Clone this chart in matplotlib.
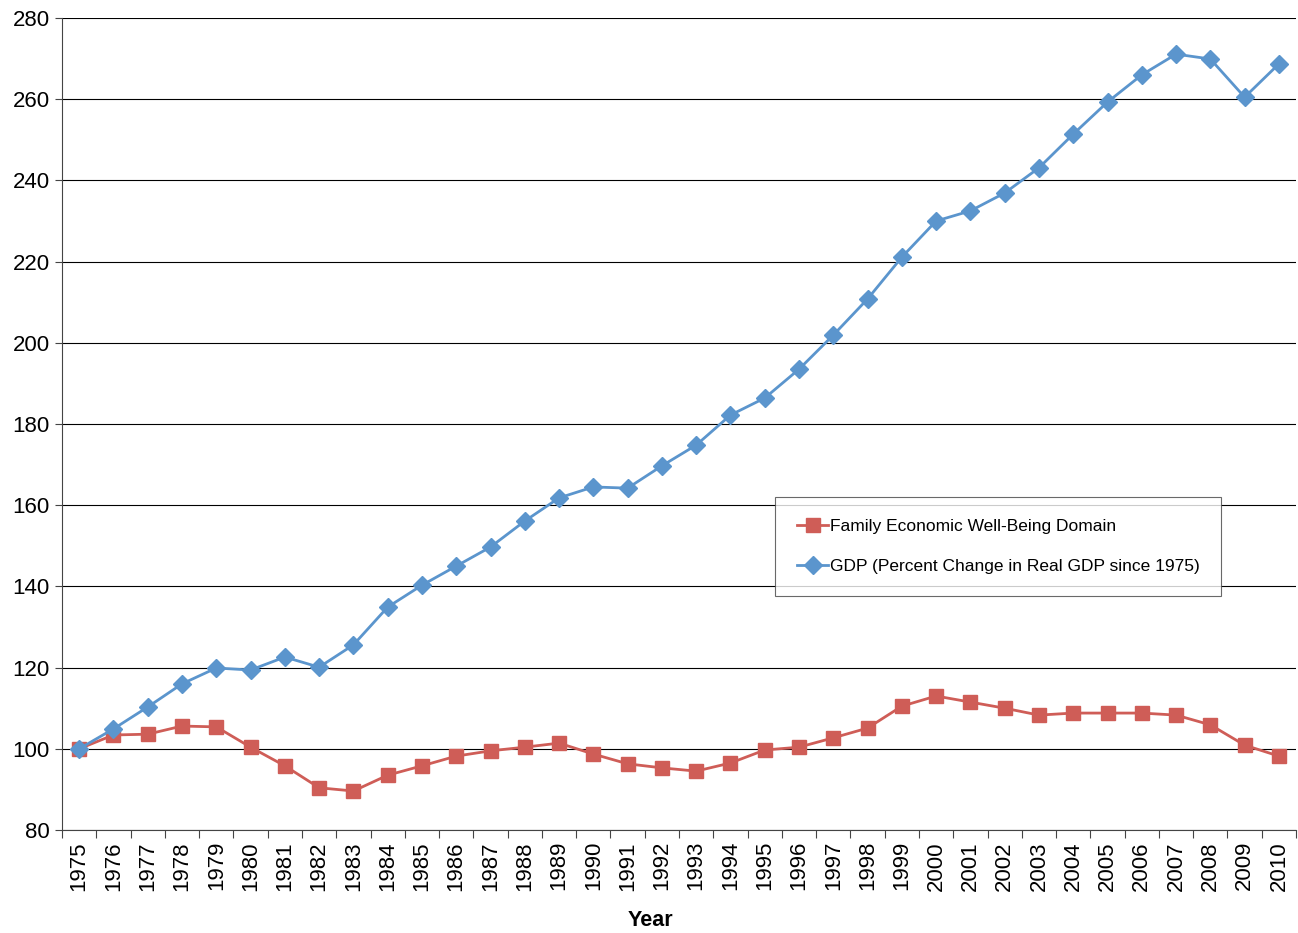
import matplotlib.pyplot as plt
import numpy as np

plt.rcParams['font.family'] = ['Liberation Sans', 'DejaVu Sans']

years = list(range(1975, 2011))
family = [100, 103.4, 103.6, 105.6, 105.4, 100.4, 95.8, 90.4, 89.6, 93.5,
          95.8, 98.2, 99.5, 100.4, 101.4, 98.7, 96.3, 95.3, 94.5, 96.5,
          99.7, 100.4, 102.7, 105.1, 110.5, 113.0, 111.5, 110.0, 108.3, 108.8,
          108.8, 108.8, 108.3, 105.9, 100.9, 98.2]
gdp = [100, 104.9, 110.3, 116.0, 119.9, 119.4, 122.6, 120.1, 125.6, 134.9,
       140.3, 145.0, 149.7, 156.1, 161.8, 164.5, 164.2, 169.7, 174.8, 182.2,
       186.4, 193.5, 201.9, 210.8, 221.1, 230.0, 232.5, 236.9, 243.1, 251.4,
       259.3, 266.0, 271.1, 269.9, 260.5, 268.7]

red = '#CF5D57'
blue = '#5B95CD'

fig = plt.figure(figsize=(12.98, 9.33), dpi=100)
ax = fig.add_axes([0.0478, 0.1104, 0.9507, 0.8703])

x = np.arange(len(years))
ax.plot(x, family, color=red, marker='s', markersize=10, linewidth=2,
        label='Family Economic Well-Being Domain', zorder=3)
ax.plot(x, gdp, color=blue, marker='D', markersize=9, linewidth=2,
        label='GDP (Percent Change in Real GDP since 1975)', zorder=3)

ax.set_xlim(-0.5, len(years) - 0.5)
ax.set_ylim(80, 280)
ax.set_yticks(range(80, 281, 20))
ax.yaxis.grid(True, color='black', linewidth=0.8)
ax.set_axisbelow(True)

ax.set_xticks(np.arange(-0.5, len(years), 1))
ax.set_xticklabels([])
ax.set_xticks(x, minor=True)
ax.set_xticklabels([str(y) for y in years], minor=True, rotation=90, fontsize=16)
ax.tick_params(axis='x', which='minor', length=0, pad=8)
ax.tick_params(axis='x', which='major', length=6, direction='out', color='#444444')
ax.tick_params(axis='y', labelsize=16, length=5, direction='out', color='#444444', pad=4)

for s in ['top', 'right']:
    ax.spines[s].set_visible(False)
for s in ['left', 'bottom']:
    ax.spines[s].set_color('#444444')

ax.set_xlabel('Year', fontsize=15.5, fontweight='bold')
ax.xaxis.set_label_coords(0.4765, -0.099)

leg = ax.legend(loc='upper left', bbox_to_anchor=(0.578, 0.410), fontsize=12.5,
                frameon=True, fancybox=False, edgecolor='#444444',
                borderpad=1.25, labelspacing=1.45, handlelength=1.8,
                handletextpad=0.1, borderaxespad=0)
leg.get_frame().set_linewidth(0.8)

plt.savefig('out.png', dpi=100)
